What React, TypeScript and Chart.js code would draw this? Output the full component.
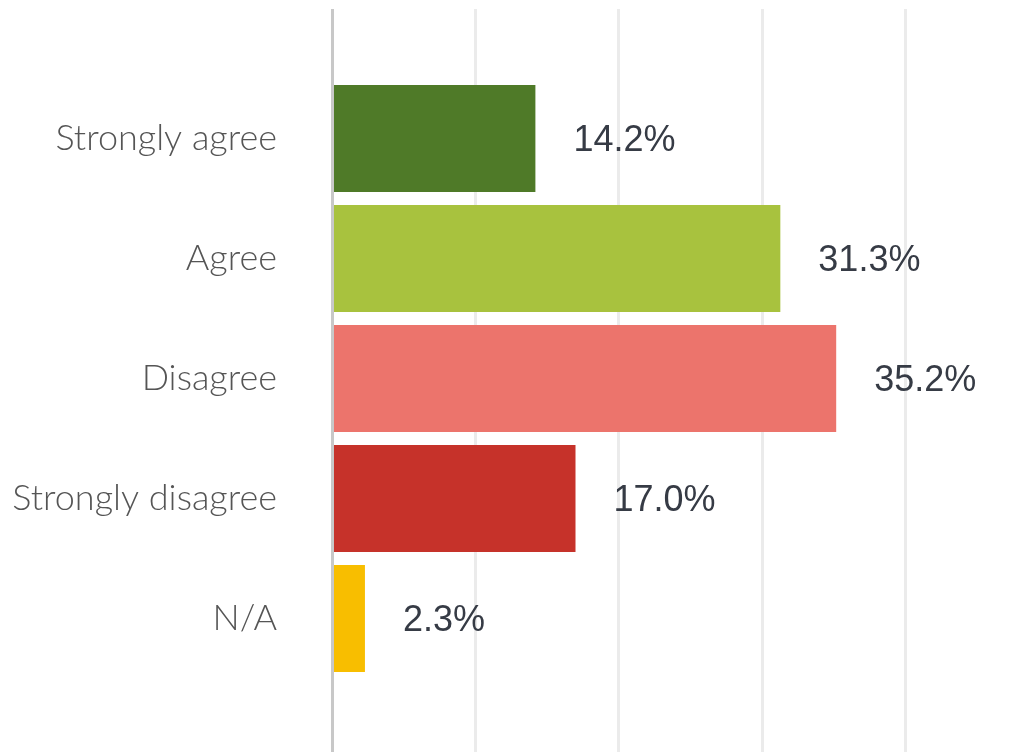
import React, { useEffect, useRef } from "react";
import { Chart, registerables } from "chart.js";

Chart.register(...registerables);

const categories = ["Strongly agree", "Agree", "Disagree", "Strongly disagree", "N/A"];
const values = [14.2, 31.3, 35.2, 17.0, 2.3];
const barColors = ["#4f7a28", "#a8c23e", "#ec746c", "#c6322a", "#f8be00"];
const valueLabels = ["14.2%", "31.3%", "35.2%", "17.0%", "2.3%"];
const gridValues = [10, 20, 30, 40];

const gridPlugin = {
  id: "fullGrid",
  beforeDatasetsDraw(chart: any) {
    const ctx = chart.ctx;
    const xs = chart.scales.x;
    ctx.save();
    ctx.lineWidth = 3;
    ctx.strokeStyle = "#ebebeb";
    gridValues.forEach((v) => {
      const x = Math.round(xs.getPixelForValue(v)) + 0.5;
      ctx.beginPath();
      ctx.moveTo(x, 9);
      ctx.lineTo(x, chart.height);
      ctx.stroke();
    });
    ctx.restore();
  },
  afterDatasetsDraw(chart: any) {
    const ctx = chart.ctx;
    const xs = chart.scales.x;
    ctx.save();
    ctx.lineWidth = 3;
    ctx.strokeStyle = "#c8c8c8";
    const x0 = Math.round(xs.getPixelForValue(0)) + 0.5;
    ctx.beginPath();
    ctx.moveTo(x0, 9);
    ctx.lineTo(x0, chart.height);
    ctx.stroke();

    const meta = chart.getDatasetMeta(0);
    ctx.font = '36px "Liberation Sans", Arial, sans-serif';
    ctx.fillStyle = "#363b45";
    ctx.textAlign = "left";
    ctx.textBaseline = "middle";
    meta.data.forEach((bar: any, i: number) => {
      ctx.fillText(valueLabels[i], bar.x + 38, bar.y + 3);
    });
    ctx.restore();
  },
};

export default function App() {
  const canvasRef = useRef<HTMLCanvasElement | null>(null);

  useEffect(() => {
    if (!canvasRef.current) return;
    const chart = new Chart(canvasRef.current, {
      type: "bar",
      data: {
        labels: categories,
        datasets: [
          {
            data: values,
            backgroundColor: barColors,
            borderWidth: 0,
            categoryPercentage: 1,
            barPercentage: 0.892,
          },
        ],
      },
      options: {
        indexAxis: "y",
        animation: false,
        responsive: true,
        maintainAspectRatio: false,
        layout: { padding: { top: 78.5, left: 0, right: 0, bottom: 73.5 } },
        plugins: {
          legend: { display: false },
          tooltip: { enabled: false },
        },
        scales: {
          x: {
            type: "linear",
            display: false,
            min: 0,
            max: 48.8,
          },
          y: {
            type: "category",
            afterFit: (scale: any) => {
              scale.width = 332;
              scale.paddingTop = 0;
              scale.paddingBottom = 0;
            },
            ticks: {
              padding: 55,
              color: "#555555",
              font: { family: "Lato, 'Open Sans', sans-serif", size: 36, weight: "300" },
              autoSkip: false,
            },
            grid: { display: false, drawTicks: false },
            border: { display: false },
          },
        },
      },
      plugins: [gridPlugin],
    });
    return () => chart.destroy();
  }, []);

  return (
    <div style={{ position: "fixed", left: 0, top: 0, width: 1031, height: 752, background: "#ffffff" }}>
      <canvas ref={canvasRef} />
    </div>
  );
}
